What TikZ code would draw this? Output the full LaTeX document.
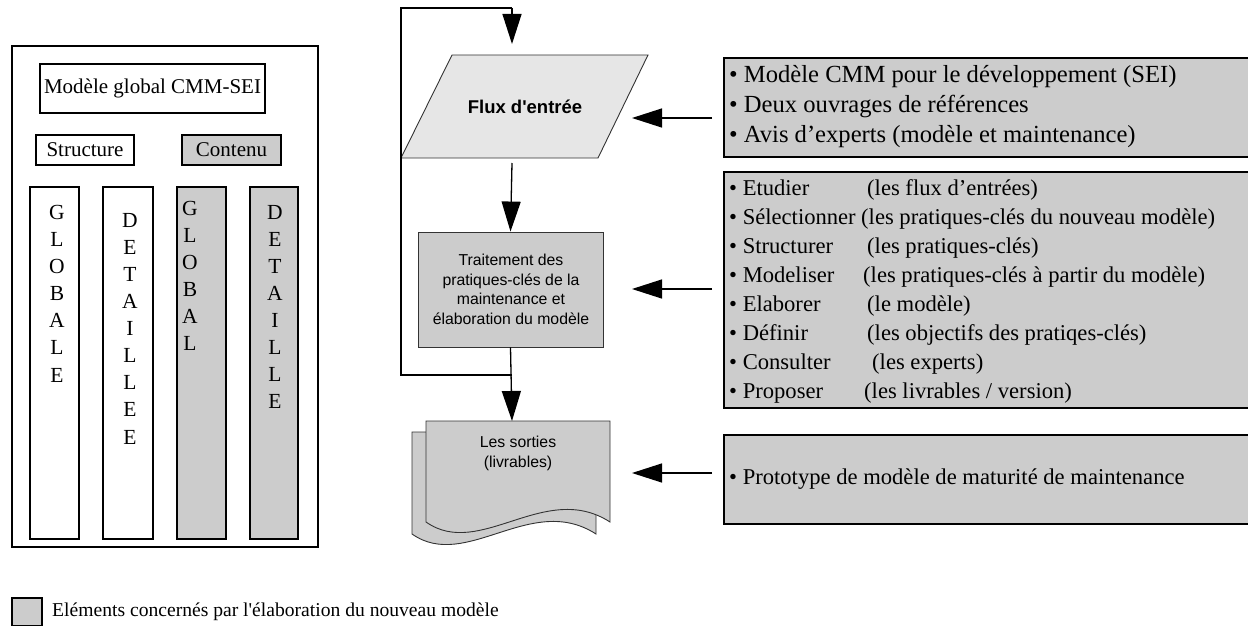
\documentclass[tikz,border=0pt]{standalone}
\usepackage{fontspec}
\setmainfont{Liberation Serif}
\setsansfont{Liberation Sans}
\usetikzlibrary{arrows.meta}
\definecolor{fillgray}{HTML}{CCCCCC}
\definecolor{lightgray}{HTML}{E6E6E6}
\definecolor{edgegray}{HTML}{333333}
\newcommand{\fsz}[2]{\fontsize{#1}{#2}\selectfont}
\newcommand{\tabline}[3]{\makebox[#1pt][l]{\textbullet\ #2}#3}
\begin{document}
\begin{tikzpicture}[x=1pt,y=-1pt,
  panel/.style={draw=black,line width=1.5pt},
  greybox/.style={panel,fill=fillgray},
  infobox/.style={draw=black,line width=1.8pt,fill=fillgray},
  flowshape/.style={draw=edgegray,line width=0.9pt},
  serif/.style={inner sep=0pt,font=\fsz{21}{25}},
  colletters/.style={inner sep=0pt,anchor=north,align=center,font=\fsz{21.5}{27.1}},
  flowtext/.style={inner sep=0pt,align=center,font=\sffamily\fsz{15.8}{19.5}},
  conn/.style={line width=1.3pt,-{Triangle[length=30pt,width=19pt]}},
  loopline/.style={line width=1.3pt},
  listtext/.style={inner sep=0pt,anchor=west,align=left}
]
\useasboundingbox (0,0) rectangle (1248,626);

% ---------- left panel: CMM-SEI model ----------
\draw[panel] (12,46) rectangle (318,547);
\draw[panel] (40,64) rectangle (265,113);
\node[serif] (global) at (152.5,88.5) {Modèle global CMM-SEI};
\draw[panel] (36,135) rectangle (134,165);
\node[serif] (struct) at (85,150) {Structure};
\draw[greybox] (182,135) rectangle (281,165);
\node[serif] (contenu) at (231.5,150) {Contenu};

\draw[panel] (30,187) rectangle (79,539);
\draw[panel] (103,187) rectangle (153,539);
\draw[greybox] (177,187) rectangle (226,539);
\draw[greybox] (250,187) rectangle (298,539);
\node[colletters] (c1) at (57,205) {G\\L\\O\\B\\A\\L\\E};
\node[colletters] (c2) at (130,213) {D\\E\\T\\A\\I\\L\\L\\E\\E};
\node[colletters] (c3) at (190,201) {G\\L\\O\\B\\A\\L};
\node[colletters] (c4) at (275,205) {D\\E\\T\\A\\I\\L\\L\\E};

% ---------- central flow ----------
% input parallelogram
\coordinate (pTL) at (452,55);
\coordinate (pTR) at (648,55);
\coordinate (pBR) at (598,158);
\coordinate (pBL) at (401,158);
\draw[flowshape,fill=lightgray] (pTL) -- (pTR) -- (pBR) -- (pBL) -- cycle;
\node[inner sep=0pt,font=\sffamily\bfseries\fsz{18.5}{22}] (flux) at (525,107) {Flux d\textquotesingle entrée};

% processing box
\node[flowshape,fill=fillgray,minimum width=185pt,minimum height=115pt,inner sep=0pt] (trait) at (510.5,289.5) {};
\node[flowtext] (traittxt) at (511,289.5) {Traitement des\\pratiques-clés de la\\maintenance et\\élaboration du modèle};

% output documents (two stacked sheets with wavy bottom)
\draw[flowshape,fill=fillgray] (412,534) -- (412,432) -- (596,432) -- (596,534)
  .. controls (531,492) and (466,572) .. (412,534) -- cycle;
\draw[flowshape,fill=fillgray] (426,522) -- (426,421) -- (610,421) -- (610,522)
  .. controls (545,480) and (480,560) .. (426,522) -- cycle;
\coordinate (docTop) at (512,421);
\node[flowtext,anchor=north] (sorties) at (518,436) {Les sorties\\(livrables)};

% loop and vertical connectors
\coordinate (loopTop) at (512,8);
\coordinate (loopTL) at (401,8);
\coordinate (loopBL) at (401,375);
\coordinate (loopBR) at (512,375);
\coordinate (fluxTop) at (512,44);
\coordinate (fluxBot) at (512,163);
\draw[loopline] (loopBR) -- (loopBL) -- (loopTL) -- (loopTop);
\draw[conn] (loopTop) -- (fluxTop);
\draw[conn] (fluxBot) -- (trait.north);
\draw[conn] (trait.south) -- (docTop);

% ---------- right information boxes ----------
\draw[infobox] (724,58) rectangle (1262,157);
\node[listtext,font=\fsz{24.6}{30}] (inputs) at (729,107)
  {\textbullet\ Modèle CMM pour le développement (SEI)\\
   \textbullet\ Deux ouvrages de références\\
   \textbullet\ Avis d’experts (modèle et maintenance)};

\draw[infobox] (724,172) rectangle (1262,408);
\node[listtext,font=\fsz{22.6}{29}] (tasks) at (729,291)
  {\tabline{138}{Etudier}{(les flux d’entrées)}\\
   \tabline{132}{Sélectionner}{(les pratiques-clés du nouveau modèle)}\\
   \tabline{138}{Structurer}{(les pratiques-clés)}\\
   \tabline{134}{Modeliser}{(les pratiques-clés à partir du modèle)}\\
   \tabline{138}{Elaborer}{(le modèle)}\\
   \tabline{138}{Définir}{(les objectifs des pratiqes-clés)}\\
   \tabline{143}{Consulter}{(les experts)}\\
   \tabline{135}{Proposer}{(les livrables / version)}};

\draw[infobox] (724,435) rectangle (1262,524);
\node[listtext,font=\fsz{22.6}{27}] (outputs) at (729,479)
  {\textbullet\ Prototype de modèle de maturité de maintenance};

% horizontal feeding arrows
\coordinate (inA) at (712,118);
\coordinate (inB) at (712,289);
\coordinate (inC) at (712,473);
\coordinate (tipA) at (632,118);
\coordinate (tipB) at (632,289);
\coordinate (tipC) at (632,473);
\draw[conn] (inA) -- (tipA);
\draw[conn] (inB) -- (tipB);
\draw[conn] (inC) -- (tipC);

% ---------- legend ----------
\draw[greybox,line width=1.2pt] (12,598) rectangle (42,626);
\node[listtext,font=\fsz{19.6}{23}] (legend) at (52,612)
  {Eléments concernés par l\textquotesingle élaboration du nouveau modèle};
\end{tikzpicture}
\end{document}
